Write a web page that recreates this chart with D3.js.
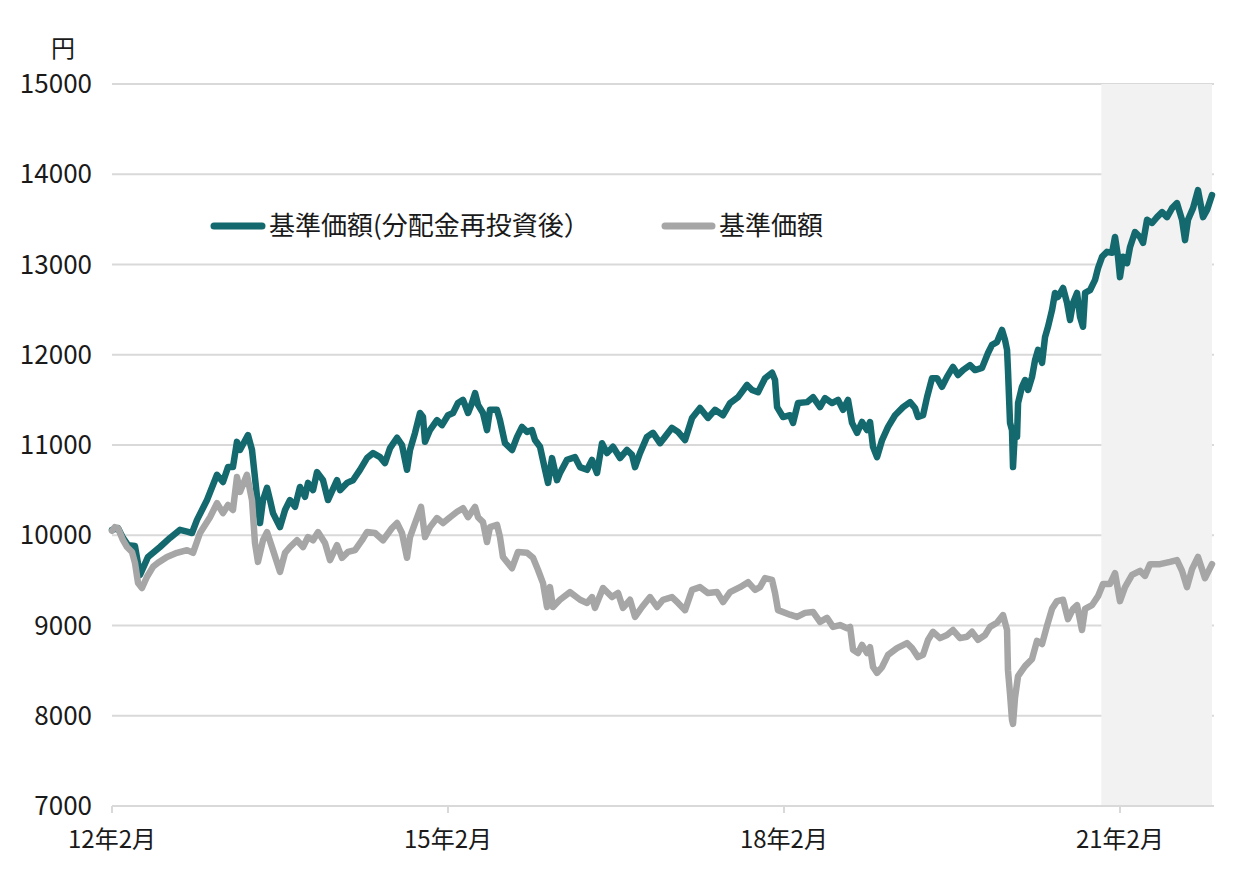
<!DOCTYPE html>
<html>
<head>
<meta charset="utf-8">
<script src="https://cdn.jsdelivr.net/npm/d3@7"></script>
<style>
  html, body { margin: 0; padding: 0; background: #ffffff; }
  svg text { font-family: "Noto Sans CJK JP", "Noto Sans", sans-serif; fill: #1a1a1a; }
</style>
</head>
<body>
<svg id="chart" width="1234" height="871"></svg>
<script>
// ---- data (x = months elapsed since 2012年2月) ----
const seriesNames = ["基準価額(分配金再投資後）", "基準価額"];
const yTicks = [7000, 8000, 9000, 10000, 11000, 12000, 13000, 14000, 15000];
const xTickMonths = [0, 36, 72, 108];
const xTickLabels = ["12年2月", "15年2月", "18年2月", "21年2月"];
const monthEnd = 117.86;
const shadeStartMonth = 106;   // 20年12月

const reinvestMonths = [0,0.64,1.18,1.71,2.46,3.0,3.86,5.14,6.21,7.29,8.04,8.57,9.11,10.18,11.25,11.89,12.43,12.96,13.39,13.71,14.57,15.0,15.54,15.86,16.18,16.61,16.93,17.25,18.0,18.54,19.07,19.61,20.14,20.68,21.0,21.54,21.97,22.61,23.14,24.11,24.43,25.18,25.82,26.57,27.32,27.97,28.72,29.25,29.79,30.54,31.07,31.61,31.93,32.47,33.0,33.32,33.54,34.07,34.82,35.36,36.0,36.54,37.07,37.61,38.15,38.57,38.9,39.22,39.75,40.18,40.5,41.25,41.57,42.11,42.86,43.4,43.93,44.47,45.0,45.32,45.86,46.4,46.72,47.15,47.68,48.0,48.75,49.61,50.15,50.9,51.43,51.97,52.5,53.04,53.68,54.43,55.18,55.72,56.04,56.57,57.32,57.97,58.72,59.25,60.0,60.65,61.4,62.15,63.0,63.86,64.61,65.47,66.22,67.08,68.04,68.58,69.22,69.97,70.72,71.04,71.26,71.9,72.65,72.97,73.5,74.47,75.11,75.86,76.4,77.15,77.79,78.33,78.86,79.29,79.83,80.36,80.9,81.22,81.54,81.97,82.51,83.15,83.9,84.76,85.51,86.04,86.36,86.9,87.33,87.86,88.4,88.93,89.47,90.11,90.65,91.18,91.93,92.47,93.22,93.86,94.29,94.82,95.36,95.68,95.9,96.0,96.22,96.43,96.54,96.75,96.97,97.08,97.5,97.83,98.15,98.58,98.9,99.22,99.65,99.97,100.29,100.72,101.04,101.36,101.9,102.33,102.65,102.97,103.4,103.72,104.04,104.26,104.79,105.33,105.65,106.08,106.61,107.15,107.47,107.79,108.0,108.33,108.76,109.08,109.61,110.15,110.47,110.9,111.44,111.97,112.51,113.04,113.58,114.11,114.65,114.97,115.29,115.83,116.36,116.9,117.33,117.86];
const reinvestValues = [10060,10080,9970,9890,9880,9560,9760,9870,9970,10060,10040,10025,10170,10390,10670,10590,10755,10755,11035,10945,11110,10945,10425,10135,10390,10525,10390,10245,10090,10280,10390,10315,10535,10425,10580,10500,10700,10610,10390,10610,10500,10580,10610,10725,10855,10910,10865,10800,10965,11080,11000,10725,10945,11135,11355,11310,11035,11165,11275,11220,11330,11355,11465,11500,11355,11465,11575,11445,11355,11165,11390,11390,11275,11020,10945,11090,11200,11145,11165,11055,10980,10725,10580,10855,10610,10690,10835,10865,10755,10725,10835,10690,11020,10910,10980,10855,10945,10890,10755,10910,11090,11135,11020,11090,11190,11145,11055,11300,11410,11300,11390,11330,11465,11530,11665,11610,11585,11740,11800,11720,11420,11310,11330,11245,11465,11475,11530,11420,11520,11465,11500,11390,11500,11245,11135,11255,11165,11255,10980,10865,11055,11200,11330,11420,11475,11410,11310,11330,11530,11740,11740,11645,11755,11865,11775,11830,11885,11830,11855,12020,12110,12140,12275,12165,12055,11830,11245,11165,10755,11165,11090,11465,11645,11720,11610,11755,11940,12055,11910,12195,12310,12495,12685,12640,12740,12575,12385,12575,12685,12420,12310,12685,12715,12830,12960,13085,13140,13130,13305,13085,12860,13085,13015,13195,13360,13305,13240,13495,13460,13525,13580,13525,13625,13680,13495,13270,13495,13625,13825,13525,13605,13770];

const navMonths = [0,0.3,0.64,1.18,1.61,2.14,2.46,2.79,3.21,3.75,4.39,4.93,5.89,6.96,8.04,8.68,9.43,10.5,11.25,11.89,12.43,12.96,13.39,13.71,14.46,15.0,15.32,15.64,16.18,16.61,17.25,18.0,18.54,19.07,19.82,20.47,21.0,21.54,22.07,22.82,23.36,24.11,24.64,25.29,26.04,26.79,27.32,28.18,29.04,30.0,30.54,31.07,31.61,31.93,32.47,33.11,33.54,34.07,34.82,35.47,36.22,36.97,37.61,38.15,38.9,39.22,39.75,40.18,40.5,41.25,41.57,41.89,42.86,43.5,44.47,45.11,45.65,46.18,46.61,46.93,47.25,48.0,49.07,50.15,50.9,51.43,51.75,52.61,53.57,54.22,54.75,55.5,56.04,56.79,57.65,58.4,59.04,60.0,60.65,61.4,62.15,63.0,63.86,64.83,65.47,66.22,67.29,68.15,68.9,69.43,69.97,70.72,71.04,71.36,72.65,73.4,74.25,75.11,75.86,76.61,77.25,78.0,78.76,79.08,79.4,79.93,80.36,80.9,81.22,81.54,81.97,82.51,83.15,84.11,85.18,85.72,86.36,86.9,87.43,87.97,88.72,89.47,90.11,90.86,91.61,92.15,92.79,93.54,94.08,94.82,95.47,95.9,96.0,96.22,96.43,96.54,96.75,97.08,97.83,98.58,99.11,99.65,100.18,100.72,101.25,101.9,102.43,102.97,103.4,103.93,104.26,105.0,105.65,106.18,106.93,107.47,108.0,108.54,109.29,110.15,110.68,111.22,112.29,113.36,114.11,114.65,115.18,115.72,116.36,117.11,117.86];
const navValues = [10050,10090,10080,9945,9870,9815,9695,9470,9415,9540,9650,9695,9760,9805,9835,9805,10025,10200,10355,10245,10335,10280,10645,10480,10670,10390,9915,9705,9945,10035,9835,9595,9805,9870,9945,9870,9980,9945,10035,9915,9725,9890,9750,9815,9835,9945,10035,10025,9945,10080,10135,10025,9750,9980,10135,10315,9980,10090,10190,10135,10200,10260,10300,10200,10315,10200,10145,9925,10090,10115,9980,9760,9635,9815,9805,9750,9615,9470,9205,9425,9205,9285,9370,9285,9250,9315,9195,9415,9315,9360,9195,9285,9095,9205,9315,9205,9285,9315,9250,9170,9395,9425,9360,9370,9260,9370,9425,9480,9395,9425,9525,9505,9360,9170,9120,9095,9140,9150,9040,9085,8985,9005,8970,8985,8730,8695,8785,8695,8760,8540,8475,8540,8675,8750,8805,8750,8650,8675,8840,8930,8860,8895,8950,8860,8875,8930,8840,8895,8985,9030,9115,8950,8505,8240,7955,7910,8195,8440,8550,8630,8830,8795,8995,9185,9270,9285,9070,9185,9225,8950,9185,9225,9325,9460,9460,9580,9270,9425,9560,9605,9550,9680,9680,9705,9725,9605,9425,9625,9760,9525,9680];

const colors = ["#13696d", "#a6a6a6"];

(function () {
  const svg = d3.select("#chart");
  const pl = 112, pr = 1212, pt = 84, pb = 806;

  const x = d3.scaleLinear().domain([0, monthEnd]).range([pl, pr]);
  const y = d3.scaleLinear().domain([7000, 15000]).range([pb, pt]);

  // gridlines
  svg.append("g").selectAll("line").data(yTicks.filter(d => d > 7000)).join("line")
    .attr("x1", pl).attr("x2", pr + 2)
    .attr("y1", d => y(d)).attr("y2", d => y(d))
    .attr("stroke", "#d9d9d9").attr("stroke-width", 2);

  // shaded period
  svg.append("rect")
    .attr("x", x(shadeStartMonth)).attr("y", pt)
    .attr("width", x(monthEnd) - x(shadeStartMonth)).attr("height", pb - pt)
    .attr("fill", "#f2f2f2");

  // x axis line and ticks
  svg.append("line").attr("x1", pl).attr("x2", pr + 2)
    .attr("y1", y(7000)).attr("y2", y(7000))
    .attr("stroke", "#d9d9d9").attr("stroke-width", 2);
  svg.append("g").selectAll("line").data(xTickMonths).join("line")
    .attr("x1", d => x(d)).attr("x2", d => x(d))
    .attr("y1", y(7000)).attr("y2", y(7000) + 7)
    .attr("stroke", "#d9d9d9").attr("stroke-width", 2);
  svg.append("g").selectAll("text").data(xTickMonths).join("text")
    .attr("x", d => x(d)).attr("y", 848)
    .attr("text-anchor", "middle").attr("font-size", 24)
    .text((d, i) => xTickLabels[i]);

  // y labels
  svg.append("g").selectAll("text").data(yTicks).join("text")
    .attr("x", 92).attr("y", d => y(d) + 9)
    .attr("text-anchor", "end").attr("font-size", 26)
    .text(d => d);
  svg.append("text").attr("x", 63).attr("y", 57)
    .attr("text-anchor", "middle").attr("font-size", 24).text("円");

  // lines
  const line = d3.line().x(d => x(d[0])).y(d => y(d[1]));
  const reinvestData = reinvestMonths.map((m, i) => [m, reinvestValues[i]]);
  const navData = navMonths.map((m, i) => [m, navValues[i]]);

  svg.append("path").datum(reinvestData).attr("d", line)
    .attr("fill", "none").attr("stroke", colors[0]).attr("stroke-width", 6.5)
    .attr("stroke-linejoin", "round").attr("stroke-linecap", "round");
  svg.append("path").datum(navData).attr("d", line)
    .attr("fill", "none").attr("stroke", colors[1]).attr("stroke-width", 6.5)
    .attr("stroke-linejoin", "round").attr("stroke-linecap", "round");

  // legend
  const legendItems = [
    { x1: 214, x2: 262, tx: 269 },
    { x1: 665, x2: 712, tx: 719 }
  ];
  legendItems.forEach((it, i) => {
    svg.append("line").attr("x1", it.x1).attr("x2", it.x2)
      .attr("y1", 226).attr("y2", 226)
      .attr("stroke", colors[i]).attr("stroke-width", 7).attr("stroke-linecap", "round");
    svg.append("text").attr("x", it.tx).attr("y", 235)
      .attr("font-size", 26).text(seriesNames[i]);
  });
})();
</script>
</body>
</html>
